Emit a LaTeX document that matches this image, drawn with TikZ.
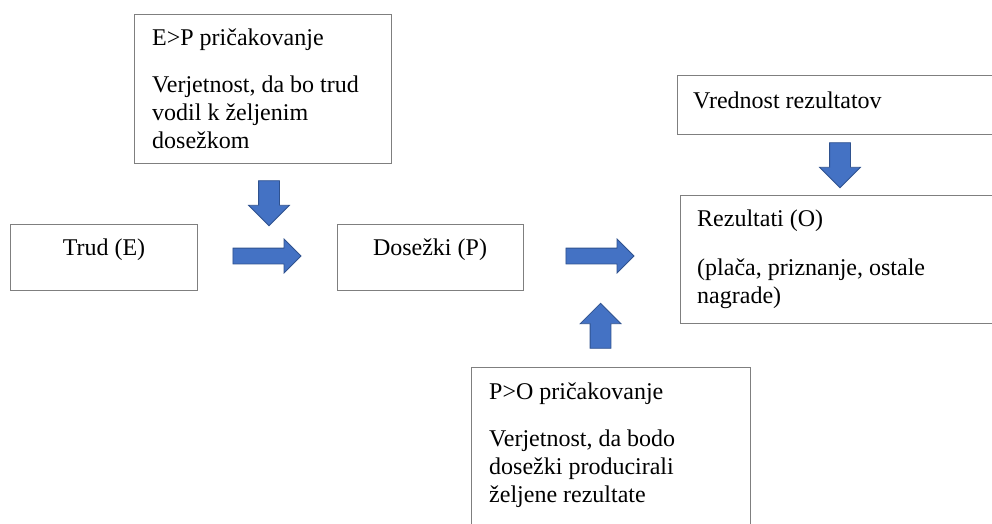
\documentclass[tikz,border=0pt]{standalone}
\usepackage{fontspec}
\setmainfont{Liberation Serif}
\usetikzlibrary{shapes.arrows}
\definecolor{boxline}{HTML}{7F7F7F}
\definecolor{arrfill}{HTML}{4472C4}
\definecolor{arrline}{HTML}{2F528F}
\begin{document}
\begin{tikzpicture}[x=1pt, y=-1pt,
  every node/.style={font=\fontsize{24}{28}\selectfont},
  box/.style={draw=boxline, line width=1.2pt, anchor=north west, inner sep=0pt},
  txt/.style={align=left, inner sep=0pt, anchor=base west},
  harrow/.style={single arrow, fill=arrfill, draw=arrline, line width=0.8pt, inner sep=0pt,
    text height=15pt, text depth=0pt, minimum height=68pt, single arrow head extend=9pt},
  varrow/.style={harrow, text height=20pt, minimum height=45pt, single arrow head extend=10pt}]
  \useasboundingbox (0,0) rectangle (992,523);
  \clip (0,0) rectangle (992,523);
  % boxes
  \node[box, minimum width=187pt, minimum height=66pt] (trud) at (10,224) {};
  \node[box, minimum width=186pt, minimum height=66pt] (dos) at (337,224) {};
  \node[box, minimum width=257pt, minimum height=149pt] (ep) at (134,14) {};
  \node[box, minimum width=330pt, minimum height=59pt] (vred) at (677,75) {};
  \node[box, minimum width=330pt, minimum height=128pt] (rez) at (680,195) {};
  \node[box, minimum width=279pt, minimum height=180pt] (po) at (471,367) {};
  % texts (base = last line)
  \node[txt, anchor=base] (trudtxt) at (104,255) {Trud (E)};
  \node[txt, anchor=base] (dostxt) at (430,255) {Dosežki (P)};
  \node[txt] (eptxt) at (152,148) {E>P pričakovanje\\[19pt]Verjetnost, da bo trud\\vodil k željenim\\dosežkom};
  \node[txt] (vredtxt) at (693,108) {Vrednost rezultatov};
  \node[txt] (reztxt) at (697,303) {Rezultati (O)\\[21pt](plača, priznanje, ostale\\nagrade)};
  \node[txt] (potxt) at (489,502) {P>O pričakovanje\\[19pt]Verjetnost, da bodo\\dosežki producirali\\željene rezultate};
  % block arrows
  \node[harrow] (a1) at (263,256) {};
  \node[harrow] (a2) at (596,256) {};
  \node[varrow, rotate=-90] (a3) at (269,198) {};
  \node[varrow, rotate=90] (a4) at (600.5,331) {};
  \node[varrow, rotate=-90] (a5) at (840,160) {};
\end{tikzpicture}
\end{document}
